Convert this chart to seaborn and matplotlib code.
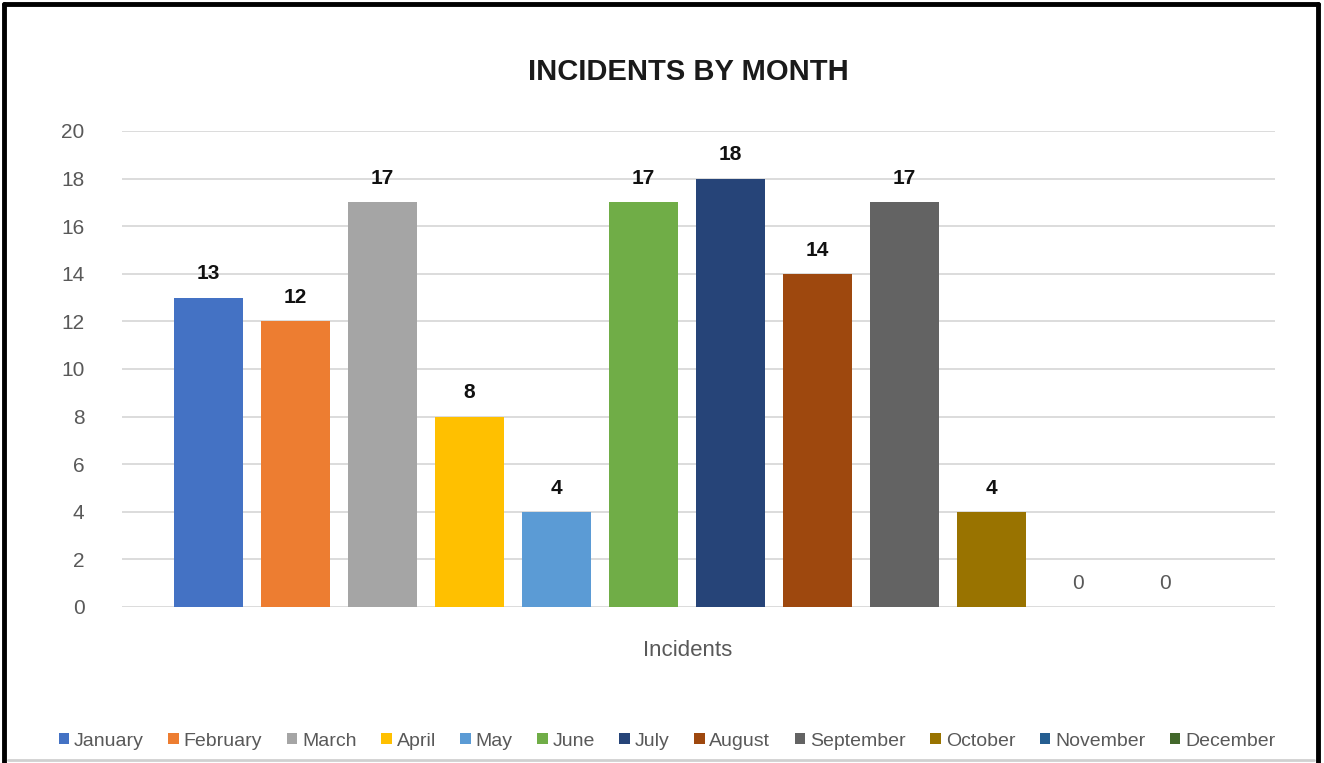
import matplotlib
matplotlib.use("Agg")
import matplotlib.pyplot as plt
import seaborn as sns
import pandas as pd
from matplotlib.lines import Line2D
from matplotlib.patches import Patch

months = ["January", "February", "March", "April", "May", "June", "July",
          "August", "September", "October", "November", "December"]
incidents = [13, 12, 17, 8, 4, 17, 18, 14, 17, 4, 0, 0]
category = "Incidents"
colors = ["#4472C4", "#ED7D31", "#A5A5A5", "#FFC000", "#5B9BD5", "#70AD47",
          "#264478", "#9E480E", "#636363", "#997300", "#255E91", "#43682B"]
yticks = [0, 2, 4, 6, 8, 10, 12, 14, 16, 18, 20]

sns.set_theme(style="white")
plt.rcParams['font.family'] = ['Liberation Sans', 'DejaVu Sans']

df = pd.DataFrame({"cat": [category] * len(months), "month": months, "value": incidents})

fig = plt.figure(figsize=(13.24, 7.63), dpi=100)
ax = fig.add_axes([122 / 1324, (763 - 607) / 763, (1275 - 122) / 1324, (607 - 131) / 763])

sns.barplot(data=df, x="cat", y="value", hue="month", hue_order=months,
            palette=colors, width=0.8, gap=0.2, ax=ax, legend=False,
            saturation=1, errorbar=None, linewidth=0, edgecolor="none")

ax.set_xlim(-0.433, 0.4506)
ax.set_ylim(0, 20)
ax.set_yticks(yticks)
ax.set_yticklabels([str(t) for t in yticks], color="#595959", fontsize=15)
ax.yaxis.grid(True, color="#d9d9d9", linewidth=1.3)
ax.set_axisbelow(True)
for s in ax.spines.values():
    s.set_visible(False)
ax.tick_params(axis="y", length=0, pad=27)
ax.tick_params(axis="x", length=0)
ax.set_xticks([])
ax.set_xlabel("")
ax.set_ylabel("")

for cont, v in zip(ax.containers, incidents):
    for bar in cont:
        x = bar.get_x() + bar.get_width() / 2
        if v == 0:
            ax.text(x, v + 0.6, str(v), ha="center", va="bottom", fontsize=15,
                    color="#595959")
        else:
            ax.text(x, v + 0.6, str(v), ha="center", va="bottom", fontsize=15,
                    fontweight="bold", color="#111111")

fig.text(688 / 1324, 1 - 72 / 763, "INCIDENTS BY MONTH", ha="center", va="center",
         fontsize=21, fontweight="bold", color="#1a1a1a")
fig.text(688 / 1324, 1 - 651 / 763, category, ha="center", va="center",
         fontsize=16, color="#595959")

handles = [Patch(facecolor=c, edgecolor="none") for c in colors]
fig.legend(handles, months, loc="center", bbox_to_anchor=(667 / 1324, 1 - 741 / 763),
           ncol=12, frameon=False, fontsize=14, handlelength=0.55, handleheight=0.55,
           handletextpad=0.25, columnspacing=1.25, labelcolor="#595959")

# outer frame
lw = 3.5
fig.add_artist(Line2D([4 / 1324, 4 / 1324], [0, 1 - 4 / 763], transform=fig.transFigure, color="black", linewidth=lw))
fig.add_artist(Line2D([4 / 1324, 1318 / 1324], [1 - 4 / 763, 1 - 4 / 763], transform=fig.transFigure, color="black", linewidth=lw))
fig.add_artist(Line2D([1318 / 1324, 1318 / 1324], [0, 1 - 4 / 763], transform=fig.transFigure, color="black", linewidth=lw))
fig.add_artist(Line2D([8 / 1324, 1314 / 1324], [3 / 763, 3 / 763], transform=fig.transFigure, color="#d0d0d0", linewidth=2))

fig.savefig("out.png", dpi=100)
